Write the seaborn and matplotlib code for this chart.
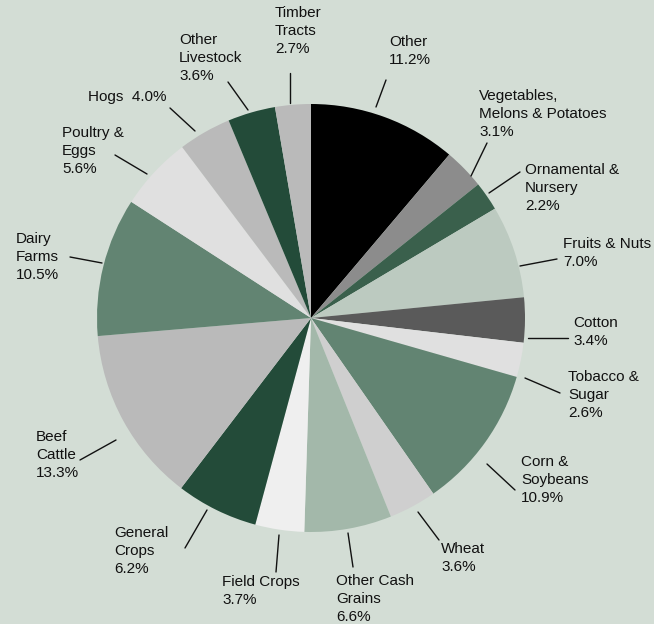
import matplotlib
matplotlib.use("Agg")
import matplotlib.pyplot as plt
import seaborn as sns

# slices, clockwise from 12 o'clock
names = ["Other", "Vegetables,\nMelons & Potatoes", "Ornamental &\nNursery", "Fruits & Nuts",
         "Cotton", "Tobacco &\nSugar", "Corn &\nSoybeans", "Wheat", "Other Cash\nGrains",
         "Field Crops", "General\nCrops", "Beef\nCattle", "Dairy\nFarms", "Poultry &\nEggs",
         "Hogs", "Other\nLivestock", "Timber\nTracts"]
shares = [11.2, 3.1, 2.2, 7.0, 3.4, 2.6, 10.9, 3.6, 6.6, 3.7, 6.2, 13.3, 10.5, 5.6, 4.0, 3.6, 2.7]
colors = ["#000000", "#8c8c8c", "#3a604c", "#bccac0", "#5a5a5a", "#e0e0e0", "#628472",
          "#cfcfcf", "#a3b8aa", "#efefef", "#234b39", "#bababa", "#628472", "#e0e0e0",
          "#bababa", "#234b39", "#bababa"]

# label layout in pixels: text top-left, leader line start/end
text_pos = [(389, 35), (479, 89), (525, 163), (563, 237), (573, 316), (568, 370),
            (521, 455), (441, 542), (336, 574), (222, 575), (114, 526), (36, 430),
            (16, 232), (62, 126), (88, 90), (179, 33), (275, 6)]
leaders = [((376, 107), (386, 80)), ((471, 176), (487, 143)), ((489, 193), (520, 172)),
           ((520, 266), (557, 259)), ((528, 338), (568, 338)), ((525, 378), (560, 393)),
           ((487, 464), (515, 490)), ((418, 512), (439, 540)), ((348, 533), (353, 567)),
           ((279, 535), (276, 572)), ((207, 510), (185, 548)), ((116, 440), (80, 460)),
           ((102, 263), (70, 257)), ((147, 174), (115, 155)), ((195, 131), (170, 108)),
           ((248, 110), (228, 82)), ((290, 103), (290, 73))]

W, H = 654, 624
bg = "#d3ddd5"
sns.set_style("white", {"axes.facecolor": bg, "figure.facecolor": bg})
plt.rcParams["font.family"] = ["Liberation Sans", "DejaVu Sans"]

fig = plt.figure(figsize=(W / 100, H / 100), dpi=100)
ax = fig.add_axes([0, 0, 1, 1])
ax.pie(shares, colors=colors, startangle=90, counterclock=False,
       center=(311, H - 318), radius=214, wedgeprops={"linewidth": 0})
ax.set_xlim(0, W)
ax.set_ylim(0, H)
ax.set_aspect("auto")
ax.axis("off")

for name, val, (tx, ty), ((x0, y0), (x1, y1)) in zip(names, shares, text_pos, leaders):
    if name == "Hogs":
        label = f"Hogs  {val:.1f}%"
    else:
        label = f"{name}\n{val:.1f}%"
    ax.text(tx, H - ty, label, ha="left", va="top", fontsize=11,
            linespacing=1.37, color="#111111")
    ax.plot([x0, x1], [H - y0, H - y1], color="#111111", lw=1)

fig.savefig("out.png", dpi=100, facecolor=bg)
